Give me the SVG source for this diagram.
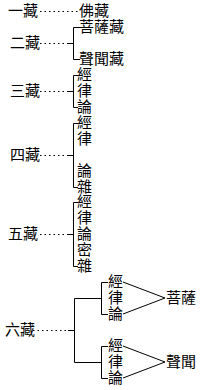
<svg xmlns="http://www.w3.org/2000/svg" width="200" height="390" viewBox="0 0 200 390">
<style>
text{font-family:"Noto Sans CJK TC","Noto Sans CJK SC",sans-serif;font-size:15px;fill:#000}
.v{writing-mode:vertical-rl;letter-spacing:0.93px}
.s{stroke:#000;stroke-width:1;fill:none}
.d{stroke:#000;stroke-width:1;fill:none;stroke-dasharray:1.5 3}
</style>
<rect width="200" height="390" fill="#fff"/>
<g id="connectors">
<line class="d" x1="40" y1="11.5" x2="78" y2="11.5"/>
<line class="d" x1="40" y1="43.5" x2="67" y2="43.5"/>
<path class="s" d="M67 43.5H73.5M80 27.5H73.5V59.5H80"/>
<line class="d" x1="40" y1="91.5" x2="67" y2="91.5"/>
<path class="s" d="M67 91.5H73.5M78 75.5H73.5V107.5H78"/>
<line class="d" x1="40" y1="155.5" x2="67" y2="155.5"/>
<path class="s" d="M67 155.5H73.5M78 123.5H73.5V187.5H78"/>
<line class="d" x1="40" y1="234.5" x2="67" y2="234.5"/>
<path class="s" d="M67 234.5H73.5M78 202.5H73.5V266.5H78"/>
<line class="d" x1="33" y1="330.5" x2="68" y2="330.5"/>
<path class="s" d="M68 330.5H74.5M101.5 298.5H74.5V362.5H101.5"/>
<path class="s" d="M108 282.5H101.5V314.5H108"/>
<path class="s" d="M108 346.5H101.5V378.5H108"/>
<path class="s" d="M123 282L165 298L123 314"/>
<path class="s" d="M123 346L165 362L123 378"/>
</g>
<g id="n1"><text x="8" y="16">一藏</text></g>
<g id="n1a"><text x="79" y="16">佛藏</text></g>
<g id="n2"><text x="10" y="48">二藏</text></g>
<g id="n2a"><text x="79" y="32">菩薩藏</text></g>
<g id="n2b"><text x="79" y="64">聲聞藏</text></g>
<g id="n3"><text x="10" y="96">三藏</text></g>
<g id="n3a"><text class="v" x="84.5" y="67">經律論</text></g>
<g id="n4"><text x="10" y="160">四藏</text></g>
<g id="n4a"><text class="v" x="84.5" y="114.5">經律</text><text class="v" x="84.5" y="162.5">論雜</text></g>
<g id="n5"><text x="8" y="239">五藏</text></g>
<g id="n5a"><text class="v" x="84.5" y="194">經律論密雜</text></g>
<g id="n6"><text x="5" y="335">六藏</text></g>
<g id="n6a"><text class="v" x="115.5" y="274">經律論</text></g>
<g id="n6b"><text class="v" x="115.5" y="338">經律論</text></g>
<g id="n6c"><text x="166" y="303">菩薩</text></g>
<g id="n6d"><text x="166" y="367">聲聞</text></g>
</svg>
